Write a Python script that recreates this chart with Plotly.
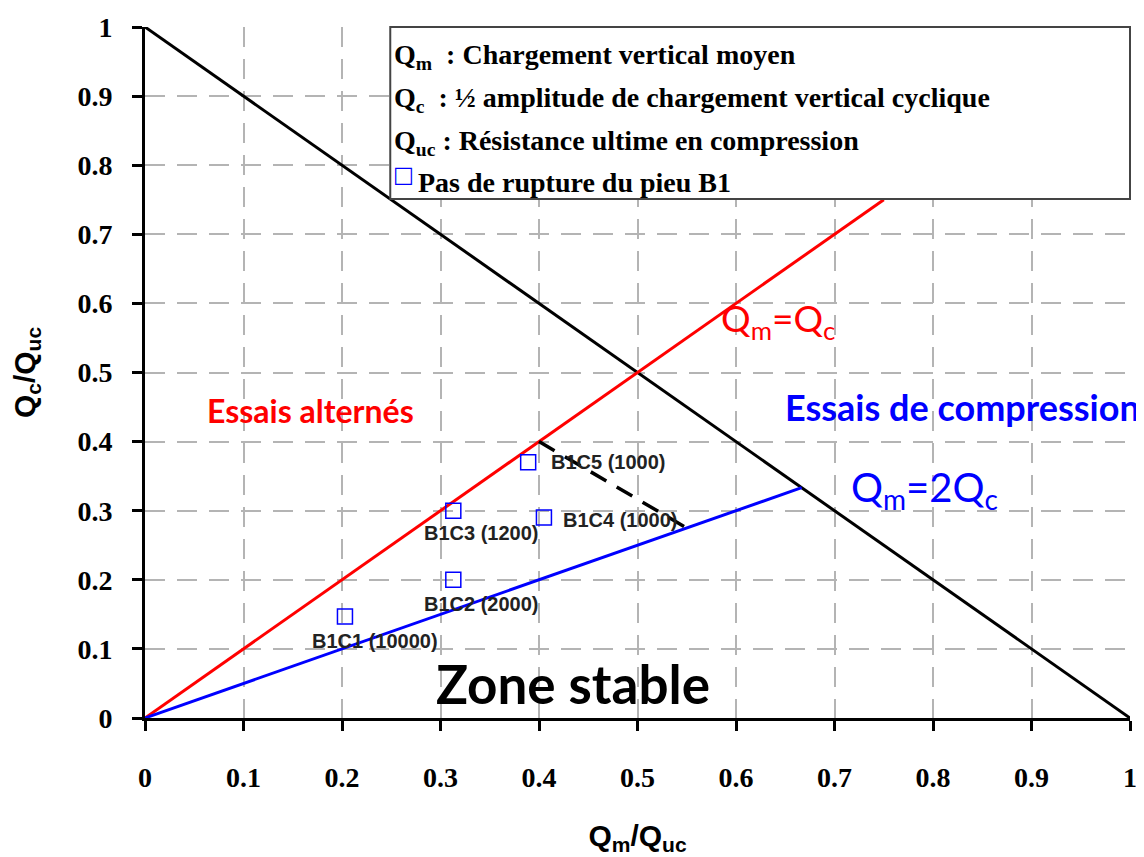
import plotly.graph_objects as go

# ---- data ----
tick_vals = [0, 0.1, 0.2, 0.3, 0.4, 0.5, 0.6, 0.7, 0.8, 0.9, 1]
tick_text = ["0", "0.1", "0.2", "0.3", "0.4", "0.5", "0.6", "0.7", "0.8", "0.9", "1"]

rupture_x = [0, 1]
rupture_y = [1, 0]
alt_x = [0, 0.75]
alt_y = [0, 0.75]
comp_x = [0, 2 / 3]
comp_y = [0, 1 / 3]
dash_x = [0.4, 0.55]
dash_y = [0.4, 0.275]

pts_x = [0.203, 0.313, 0.313, 0.405, 0.389]
pts_y = [0.147, 0.2, 0.3, 0.29, 0.37]
pts_labels = ["B1C1 (10000)", "B1C2 (2000)", "B1C3 (1200)", "B1C4 (1000)", "B1C5 (1000)"]

legend_lines = [
    "Q<sub>m</sub>  : Chargement vertical moyen",
    "Q<sub>c</sub>  : ½ amplitude de chargement vertical cyclique",
    "Q<sub>uc</sub> : Résistance ultime en compression",
    "Pas de rupture du pieu B1",
]

# label placement (pixel offsets)
lbl_style = [
    dict(xanchor="center", yanchor="middle", xshift=30, yshift=-25),
    dict(xanchor="center", yanchor="middle", xshift=28, yshift=-24),
    dict(xanchor="center", yanchor="middle", xshift=28, yshift=-22),
    dict(xanchor="left", yanchor="middle", xshift=17, yshift=-2),
    dict(xanchor="left", yanchor="middle", xshift=21, yshift=0),
]

fig = go.Figure()

fig.add_trace(go.Scatter(x=rupture_x, y=rupture_y, mode="lines",
                         line=dict(color="black", width=3), showlegend=False))
fig.add_trace(go.Scatter(x=alt_x, y=alt_y, mode="lines",
                         line=dict(color="#ff0000", width=3), showlegend=False))
fig.add_trace(go.Scatter(x=comp_x, y=comp_y, mode="lines",
                         line=dict(color="#0000ff", width=3), showlegend=False))
fig.add_trace(go.Scatter(x=dash_x, y=dash_y, mode="lines",
                         line=dict(color="black", width=3.5, dash="18px,12px"), showlegend=False))
fig.add_trace(go.Scatter(x=pts_x, y=pts_y, mode="markers",
                         marker=dict(symbol="square-open", size=15, color="#0000ff",
                                     line=dict(width=1.5, color="#0000ff")),
                         showlegend=False))

for x, y, t, st in zip(pts_x, pts_y, pts_labels, lbl_style):
    fig.add_annotation(x=x, y=y, text=t, showarrow=False,
                       font=dict(family="Liberation Sans", size=20, color="#222222", weight="bold"),
                       **st)

# text labels
fig.add_annotation(x=0.168, y=0.445, text="Essais alternés", showarrow=False,
                   xanchor="center", yanchor="middle",
                   font=dict(family="Lato", size=32, color="#ff0000", weight="bold"))
fig.add_annotation(x=0.83, y=0.45, text="Essais de compression", showarrow=False,
                   xanchor="center", yanchor="middle",
                   font=dict(family="Lato", size=36, color="#0000ff", weight="bold"))
fig.add_annotation(x=0.583, y=0.575, text="Q<sub>m</sub>=Q<sub>c</sub>", showarrow=False,
                   xanchor="left", yanchor="middle",
                   font=dict(family="Lato", size=37, color="#ff0000"))
fig.add_annotation(x=0.715, y=0.33, text="Q<sub>m</sub>=2Q<sub>c</sub>", showarrow=False,
                   xanchor="left", yanchor="middle",
                   font=dict(family="Lato", size=40, color="#0000ff"))
fig.add_annotation(x=0.435, y=0.05, text="Zone stable", showarrow=False,
                   xanchor="center", yanchor="middle",
                   font=dict(family="Lato", size=53, color="black", weight="bold"))

# legend box
fig.add_shape(type="rect", xref="paper", yref="paper", x0=0.249, x1=1.0, y0=0.751, y1=1.0,
              line=dict(color="#444444", width=2), fillcolor="white", layer="above")
leg_y = [0.958, 0.895, 0.833, 0.775]
for i, (t, yy) in enumerate(zip(legend_lines, leg_y)):
    fig.add_annotation(xref="paper", yref="paper", x=0.251 if i < 3 else 0.275, y=yy,
                       text=t, showarrow=False, xanchor="left", yanchor="middle",
                       font=dict(family="Liberation Serif", size=28, color="black", weight="bold"))
fig.add_annotation(xref="paper", yref="paper", x=0.262, y=0.786, text="□", showarrow=False,
                   xanchor="center", yanchor="middle",
                   font=dict(family="DejaVu Sans", size=22, color="#0000ff"))

axis_common = dict(
    range=[0, 1], tickvals=tick_vals, ticktext=tick_text, automargin=False,
    showgrid=True, gridcolor="#b4b4b4", gridwidth=2, griddash="20px,12px",
    zeroline=False, showline=True, linecolor="black", linewidth=3,
    ticks="outside", ticklen=10, tickwidth=3, tickcolor="black",
    tickfont=dict(family="Liberation Serif", size=28, color="black", weight="bold"),
)

# page body has an 8px offset, compensate in margins
fig.update_layout(
    width=1144, height=857,
    margin=dict(l=137, r=22, t=19, b=147),
    plot_bgcolor="white", paper_bgcolor="white",
    xaxis=dict(**axis_common, ticklabelstandoff=22,
               title=dict(text="Q<sub>m</sub>/Q<sub>uc</sub>", standoff=34,
                          font=dict(family="Liberation Sans", size=30, color="black", weight="bold"))),
    yaxis=dict(**axis_common, ticklabelstandoff=14,
               title=dict(text="Q<sub>c</sub>/Q<sub>uc</sub>", standoff=38,
                          font=dict(family="Liberation Sans", size=30, color="black", weight="bold"))),
)

fig.write_html("out.html")
